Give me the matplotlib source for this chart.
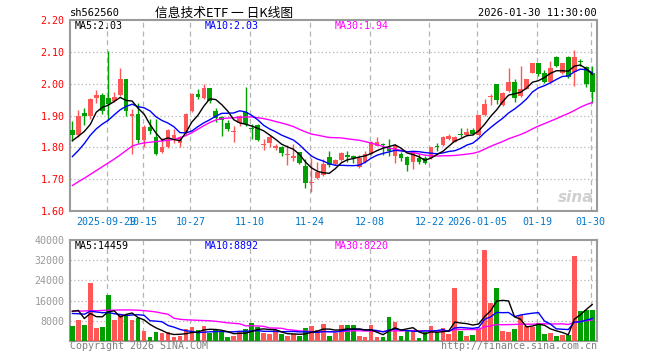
import matplotlib
matplotlib.use('Agg')
import matplotlib.pyplot as plt
import numpy as np

# ---------------- data ----------------
opens = [1.854, 1.838, 1.909, 1.899, 1.954, 1.963, 1.954, 1.944, 1.964, 2.014,
         1.899, 1.905, 1.824, 1.865, 1.831, 1.784, 1.800, 1.829, 1.814, 1.845,
         1.915, 1.967, 1.955, 1.985, 1.914, 1.894, 1.876, 1.847, 1.876, 1.912,
         1.862, 1.871, 1.807, 1.814, 1.797, 1.800, 1.776, 1.766, 1.784, 1.740,
         1.687, 1.704, 1.714, 1.771, 1.748, 1.760, 1.775, 1.771, 1.737, 1.753,
         1.779, 1.805, 1.808, 1.797, 1.774, 1.779, 1.771, 1.753, 1.766, 1.766,
         1.766, 1.803, 1.807, 1.826, 1.818, 1.840, 1.839, 1.854, 1.839, 1.901,
         1.959, 2.000, 1.932, 1.977, 2.005, 1.961, 1.984, 2.034, 2.064, 2.034,
         2.005, 2.084, 2.032, 2.084, 2.036, 2.071, 2.053, 2.032]
highs = [1.883, 1.917, 1.922, 1.954, 1.979, 1.970, 2.104, 1.974, 2.050, 2.014,
         1.920, 1.940, 1.870, 1.888, 1.888, 1.828, 1.857, 1.857, 1.836, 1.909,
         1.970, 1.982, 2.000, 1.986, 1.925, 1.897, 1.885, 1.866, 1.901, 1.990,
         1.873, 1.873, 1.826, 1.838, 1.810, 1.805, 1.808, 1.810, 1.786, 1.764,
         1.766, 1.753, 1.762, 1.787, 1.762, 1.786, 1.790, 1.775, 1.776, 1.787,
         1.821, 1.831, 1.814, 1.826, 1.810, 1.784, 1.774, 1.784, 1.779, 1.774,
         1.802, 1.814, 1.836, 1.842, 1.836, 1.860, 1.862, 1.860, 1.903, 1.951,
         1.967, 2.000, 1.974, 2.050, 2.016, 2.055, 2.016, 2.066, 2.066, 2.042,
         2.071, 2.086, 2.066, 2.086, 2.107, 2.078, 2.057, 2.057]
lows = [1.821, 1.834, 1.870, 1.889, 1.939, 1.906, 1.889, 1.941, 1.961, 1.899,
        1.780, 1.815, 1.800, 1.842, 1.777, 1.782, 1.797, 1.814, 1.800, 1.842,
        1.912, 1.951, 1.953, 1.940, 1.880, 1.836, 1.852, 1.816, 1.866, 1.866,
        1.826, 1.819, 1.793, 1.800, 1.793, 1.774, 1.743, 1.758, 1.748, 1.672,
        1.661, 1.700, 1.711, 1.738, 1.745, 1.758, 1.753, 1.750, 1.734, 1.750,
        1.777, 1.803, 1.776, 1.774, 1.751, 1.758, 1.727, 1.732, 1.748, 1.748,
        1.763, 1.790, 1.805, 1.824, 1.816, 1.831, 1.836, 1.839, 1.836, 1.899,
        1.932, 1.935, 1.930, 1.975, 1.943, 1.959, 1.982, 2.032, 2.024, 2.001,
        2.003, 2.053, 2.029, 2.019, 1.993, 2.057, 1.991, 1.939]
closes = [1.840, 1.900, 1.898, 1.951, 1.963, 1.915, 1.935, 1.957, 2.014, 1.915,
          1.906, 1.822, 1.865, 1.850, 1.779, 1.800, 1.854, 1.840, 1.831, 1.906,
          1.967, 1.958, 1.985, 1.947, 1.893, 1.887, 1.857, 1.850, 1.897, 1.872,
          1.859, 1.822, 1.810, 1.831, 1.805, 1.782, 1.779, 1.772, 1.751, 1.687,
          1.690, 1.724, 1.748, 1.743, 1.760, 1.782, 1.771, 1.768, 1.766, 1.779,
          1.818, 1.818, 1.806, 1.790, 1.807, 1.766, 1.743, 1.781, 1.755, 1.751,
          1.800, 1.800, 1.831, 1.836, 1.831, 1.838, 1.847, 1.842, 1.901, 1.935,
          1.961, 1.949, 1.970, 2.005, 1.956, 1.984, 2.014, 2.064, 2.029, 2.005,
          2.050, 2.055, 2.064, 2.022, 2.084, 2.068, 1.998, 1.974]
volumes = [5830, 8220, 6230, 22940, 5040, 5440, 18170, 8220, 10600, 10210,
           8220, 9020, 3850, 1460, 3450, 3050, 3450, 1460, 1860, 4640,
           5440, 4240, 5830, 3050, 4240, 3850, 1460, 1860, 3850, 4640,
           7030, 5440, 3050, 2650, 4240, 2650, 1860, 2650, 1860, 5040,
           5830, 4240, 6630, 1860, 3050, 6230, 6230, 6230, 1860, 1460,
           6230, 1460, 1460, 9410, 7430, 1860, 3850, 3850, 1060, 3450,
           5830, 3050, 5040, 2650, 21000, 3850, 1860, 2250, 4640, 36000,
           14980, 21000, 3850, 3450, 4640, 10210, 5830, 5440, 7000, 2800,
           3000, 1860, 2250, 2400, 33500, 11800, 12400, 12200]

# moving-average values at the left edge (history before the window)
price_ma5_head = [1.821, 1.835, 1.850, 1.872]
price_ma10_head = [1.771, 1.790, 1.812, 1.838, 1.858, 1.873, 1.885, 1.902, 1.918]
price_ma30_head = [1.680, 1.692, 1.703, 1.715, 1.727, 1.739, 1.751, 1.763, 1.776, 1.790,
                   1.804, 1.810, 1.814, 1.816, 1.818, 1.820, 1.822, 1.825, 1.830, 1.837,
                   1.846, 1.857, 1.868, 1.878, 1.886, 1.890, 1.892, 1.893, 1.894]
vol_ma5_head = [11800, 12100, 8900, 10900]
vol_ma10_head = [10900, 10800, 10600, 11800, 11500, 11200, 11300, 10800, 10500]
vol_ma30_head = [11800, 11800, 11900, 12000, 12000, 12100, 12200, 12200, 12300, 12300,
                 12300, 12200, 12000, 11800, 11500, 11000, 10600, 9000, 8600, 8400,
                 8300, 8200, 8100, 8000, 7800, 7500, 7200, 7000, 6800]

date_tick_idx = [6, 12, 20, 30, 40, 50, 60, 68, 78, 87]
date_tick_labels = ['2025-09-29', '10-15', '10-27', '11-10', '11-24', '12-08',
                    '12-22', '2026-01-05', '01-19', '01-30']
price_ticks = [1.60, 1.70, 1.80, 1.90, 2.00, 2.10, 2.20]
vol_ticks = [8000, 16000, 24000, 32000, 40000]

title_code = 'sh562560'
title_name = '信息技术ETF 一 日K线图'
timestamp = '2026-01-30 11:30:00'
price_ma_text = ['MA5:2.03', 'MA10:2.03', 'MA30:1.94']
vol_ma_text = ['MA5:14459', 'MA10:8892', 'MA30:8220']

# ---------------- helpers ----------------
def moving_avg(vals, n, head):
    out = []
    for i in range(len(vals)):
        if i < n - 1:
            out.append(head[i])
        else:
            out.append(float(np.mean(vals[i - n + 1:i + 1])))
    return out

RED = '#ff5656'
GREEN = '#00a000'
GRID = '#b4b4b4'
MONO = 'DejaVu Sans Mono'
plt.rcParams['font.family'] = [MONO]

W, H = 660, 360
fig = plt.figure(figsize=(6.6, 3.6), dpi=100)
fig.patch.set_facecolor('white')

def fx(px):
    return px / W

def fy(py):
    return 1 - py / H

L_, R_ = 70, 597
ax = fig.add_axes([fx(L_), fy(211), fx(R_) - fx(L_), fy(20) - fy(211)])
axv = fig.add_axes([fx(L_), fy(341), fx(R_) - fx(L_), fy(240) - fy(341)])

n = len(closes)
xs = np.arange(n)
XMIN, XMAX = -0.40, 87.8
dash_x = [i - 0.25 for i in date_tick_idx]

for a in (ax, axv):
    a.set_xlim(XMIN, XMAX)
    for s in a.spines.values():
        s.set_color('#9a9a9a')
        s.set_linewidth(1.5)
    for xd in dash_x:
        a.axvline(xd, color=GRID, lw=0.9, ls=(0, (4, 3)), zorder=0)
    a.tick_params(length=0)

# price panel
ax.set_ylim(1.60, 2.20)
for yv in price_ticks[1:-1]:
    ax.axhline(yv, color=GRID, lw=0.9, ls=(0, (1, 2)), zorder=0)

for i in range(n):
    o, h, l, c = opens[i], highs[i], lows[i], closes[i]
    col = RED if c >= o else GREEN
    ax.vlines(xs[i], l, h, color=col, lw=1.0, zorder=2)
    body = max(abs(c - o), 0.0033)
    ax.bar(xs[i], body, bottom=min(o, c), width=0.78, color=col, lw=0, zorder=3)

ma5 = moving_avg(closes, 5, price_ma5_head)
ma10 = moving_avg(closes, 10, price_ma10_head)
ma30 = moving_avg(closes, 30, price_ma30_head)
ax.plot(xs, ma30, color='#ff00ff', lw=1.0, zorder=4)
ax.plot(xs, ma10, color='#0000ff', lw=1.0, zorder=4)
ax.plot(xs, ma5, color='#000000', lw=1.0, zorder=4)

ax.set_yticks(price_ticks)
ax.set_yticklabels(['%.2f' % v for v in price_ticks], color='#ff0000', fontsize=7.2)
ax.tick_params(axis='y', pad=4)
ax.set_xticks(dash_x)
ax.set_xticklabels(date_tick_labels, color='#0077cc', fontsize=7.2)
ax.tick_params(axis='x', pad=4.5)

# volume panel
axv.set_ylim(0, 40000)
for yv in vol_ticks[:-1]:
    axv.axhline(yv, color=GRID, lw=0.9, ls=(0, (1, 2)), zorder=0)
vcols = [RED if closes[i] >= opens[i] else GREEN for i in range(n)]
axv.bar(xs, volumes, width=0.78, color=vcols, lw=0, zorder=3)
vma5 = moving_avg(volumes, 5, vol_ma5_head)
vma10 = moving_avg(volumes, 10, vol_ma10_head)
vma30 = moving_avg(volumes, 30, vol_ma30_head)
axv.plot(xs, vma30, color='#ff00ff', lw=1.0, zorder=4)
axv.plot(xs, vma10, color='#0000ff', lw=1.0, zorder=4)
axv.plot(xs, vma5, color='#000000', lw=1.0, zorder=4)
axv.set_yticks(vol_ticks)
axv.set_yticklabels([str(v) for v in vol_ticks], color='#999999', fontsize=7.2)
axv.tick_params(axis='y', pad=4)
axv.set_xticks([])

# texts
fig.text(fx(70), fy(13.5), title_code, fontsize=7.5, color='#000000', va='center', ha='left')
fig.text(fx(224), fy(13.5), title_name, fontsize=9.2, color='#000000', va='center', ha='center',
         family=['Noto Sans CJK SC', 'DejaVu Sans'])
fig.text(fx(597), fy(13.5), timestamp, fontsize=7.5, color='#000000', va='center', ha='right')

ma_colors = ['#000000', '#0000ff', '#ff00ff']
ma_x = [75, 205, 335]
for t, c, xp in zip(price_ma_text, ma_colors, ma_x):
    fig.text(fx(xp), fy(26), t, fontsize=7.2, color=c, va='center', ha='left')
for t, c, xp in zip(vol_ma_text, ma_colors, ma_x):
    fig.text(fx(xp), fy(246), t, fontsize=7.2, color=c, va='center', ha='left')

fig.text(fx(593), fy(197), 'sina', fontsize=11, color='#d0d0d0', style='italic',
         weight='bold', va='center', ha='right', family='DejaVu Sans')
fig.text(fx(70), fy(346), 'Copyright 2026 SINA.COM', fontsize=7.2, color='#808080', va='center', ha='left')
fig.text(fx(597), fy(346), 'http://finance.sina.com.cn', fontsize=7.2, color='#808080', va='center', ha='right')

fig.savefig('out.png', dpi=100)
